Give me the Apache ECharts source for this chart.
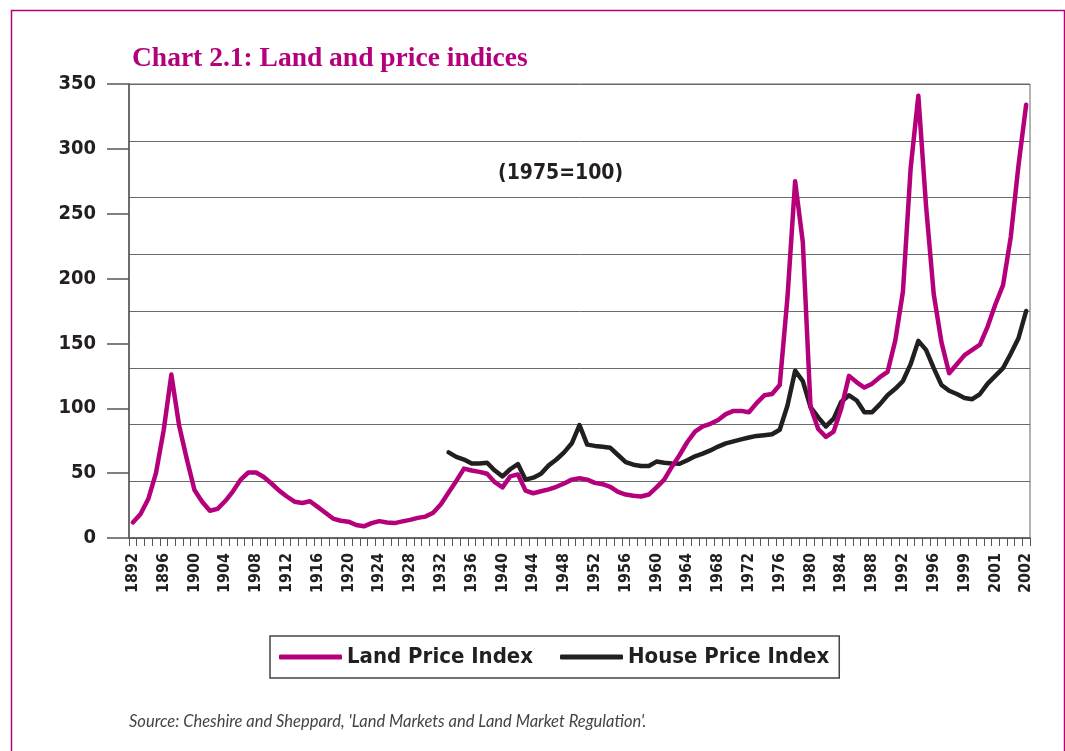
<!DOCTYPE html>
<html>
<head>
<meta charset="utf-8">
<script src="https://cdn.jsdelivr.net/npm/echarts@6/dist/echarts.min.js"></script>
<style>
html,body{margin:0;padding:0;background:#fff;}
#chart{width:1065px;height:751px;}
</style>
</head>
<body>
<div id="chart"></div>
<script>
// Category labels (ticks); labels shown every 4th
const categories = [
 '1892','1893','1894','1895','1896','1897','1898','1899','1900','1901',
 '1902','1903','1904','1905','1906','1907','1908','1909','1910','1911',
 '1912','1913','1914','1915','1916','1917','1918','1919','1920','1921',
 '1922','1923','1924','1925','1926','1927','1928','1929','1930','1931',
 '1932','1933','1934','1935','1936','1937','1938','1939','1940','1941',
 '1942','1943','1944','1945','1946','1947','1948','1949','1950','1951',
 '1952','1953','1954','1955','1956','1957','1958','1959','1960','1961',
 '1962','1963','1964','1965','1966','1967','1968','1969','1970','1971',
 '1972','1973','1974','1975','1976','1977','1978','1979','1980','1981',
 '1982','1983','1984','1985','1986','1987','1988','1989','1990','1991',
 '1992','1993','1994','1995','1996','1997','1998','1998.5','1999','1999.5',
 '2000','2000.5','2001','2001.25','2001.5','2001.75','2002'
];

const landPriceIndex = [
 12,18.5,30,50,83,126,87,61,37,28,
 21,22.5,28.5,36,45,50.5,50.5,47,42,36.5,
 32,28,27,28.3,24,19.5,15,13.3,12.6,10,
 9,11.5,13,12,11.5,12.8,14,15.5,16.5,19.5,
 26,35,44,53.5,52,51,49.5,43,39,47.5,
 49,36.5,34.5,36,37.5,39.5,42,45,46,45,
 42.5,41.5,39.5,35.5,33.5,32.5,32,33.5,39,45,
 55,64,74,82,86,88,91,95.5,98,98,
 97,104,110,111,118,185,275,228,101,84,
 78,82,100,125,120,116,119,124,128,152,
 190,285,341,256,188,151,127,134,141,145,
 149,163,180,195,232,287,334
];

const housePriceIndex = [
 '-','-','-','-','-','-','-','-','-','-',
 '-','-','-','-','-','-','-','-','-','-',
 '-','-','-','-','-','-','-','-','-','-',
 '-','-','-','-','-','-','-','-','-','-',
 '-',66,62.5,60.5,57.5,57.5,58,52,47.5,53,
 57,45,46.5,49.5,56,60.5,66,73,87,72,
 71,70.3,69.5,64,58.5,56.5,55.5,55.5,58.9,58,
 57.5,57.2,60,63,65,67.5,70.5,73,74.5,76,
 77.5,78.7,79.3,80,83.5,102,129,121,101,93,
 86,92,105,110,106,97,97,103,110,115,
 121,134,152,145,131,118,113.5,111,108,107,
 111,119,125,131,142,154,175
];

const yTicks = {min: 0, max: 350, interval: 50};

const MAGENTA = '#b5007b';
const DARK = '#231f20';
const COND = "'Liberation Sans Narrow','DejaVu Sans Condensed','Roboto Condensed',Roboto,sans-serif";

const chart = echarts.init(document.getElementById('chart'), null, {renderer: 'canvas'});

chart.setOption({
  animation: false,
  backgroundColor: '#fff',
  title: {
    text: 'Chart 2.1: Land and price indices',
    left: 127, top: 40,
    textStyle: {fontFamily: "'Liberation Serif','DejaVu Serif',serif", fontWeight: 'bold', fontSize: 27.5, color: MAGENTA}
  },
  grid: {
    left: 129, top: 84, width: 901, height: 454,
    show: true, borderColor: '#666', borderWidth: 1, backgroundColor: 'transparent',
    containLabel: false
  },
  legend: {
    data: ['Land Price Index', 'House Price Index'],
    left: 270, top: 636,
    orient: 'horizontal',
    icon: 'roundRect',
    itemWidth: 63, itemHeight: 5, itemGap: 27,
    padding: [9, 10, 9, 9],
    borderColor: '#444', borderWidth: 1.5,
    textStyle: {fontFamily: COND, fontWeight: 'bold', fontSize: 22, color: '#231f20', lineHeight: 24}
  },
  xAxis: {
    type: 'category',
    data: categories,
    boundaryGap: true,
    axisLine: {show: true, lineStyle: {color: '#555', width: 1.5}},
    axisTick: {show: true, interval: 0, length: 8, lineStyle: {color: '#555', width: 1}},
    axisLabel: {interval: 3, rotate: 90, margin: 15, fontFamily: COND, fontWeight: 'bold', fontSize: 16, color: '#231f20'},
    splitLine: {show: false}
  },
  yAxis: [
    {
      type: 'value',
      min: yTicks.min, max: yTicks.max, interval: yTicks.interval,
      axisLine: {show: true, lineStyle: {color: '#555', width: 1.5}},
      axisTick: {show: true, length: 22, lineStyle: {color: '#555', width: 1.5}},
      axisLabel: {margin: 33, fontFamily: COND, fontWeight: 'bold', fontSize: 20, color: '#231f20'},
      splitLine: {show: false}
    },
    {
      type: 'value',
      min: 0, max: 8, interval: 1,
      position: 'right',
      axisLine: {show: false}, axisTick: {show: false}, axisLabel: {show: false},
      splitLine: {show: true, lineStyle: {color: '#6a6a6a', width: 1}}
    }
  ],
  series: [
    {
      name: 'House Price Index', type: 'line', data: housePriceIndex,
      showSymbol: false, symbol: 'none', silent: true,
      lineStyle: {color: DARK, width: 4.5, cap: 'round', join: 'round'},
      itemStyle: {color: DARK}, z: 3
    },
    {
      name: 'Land Price Index', type: 'line', data: landPriceIndex,
      showSymbol: false, symbol: 'none', silent: true,
      lineStyle: {color: MAGENTA, width: 4.5, cap: 'round', join: 'round'},
      itemStyle: {color: MAGENTA}, z: 4
    }
  ],
  graphic: [
    {type: 'rect', left: 9, top: 8, shape: {width: 1053, height: 770}, style: {fill: 'none', stroke: MAGENTA, lineWidth: 1.5}, silent: true},
    {type: 'text', left: 498, top: 163, style: {text: '(1975=100)', font: "bold 21px " + COND, fill: '#231f20'}},
    {type: 'text', left: 129, top: 713, style: {text: "Source: Cheshire and Sheppard, 'Land Markets and Land Market Regulation'.", font: "italic 16.5px Lato, 'Open Sans', sans-serif", fill: '#444'}}
  ]
});
</script>
</body>
</html>
